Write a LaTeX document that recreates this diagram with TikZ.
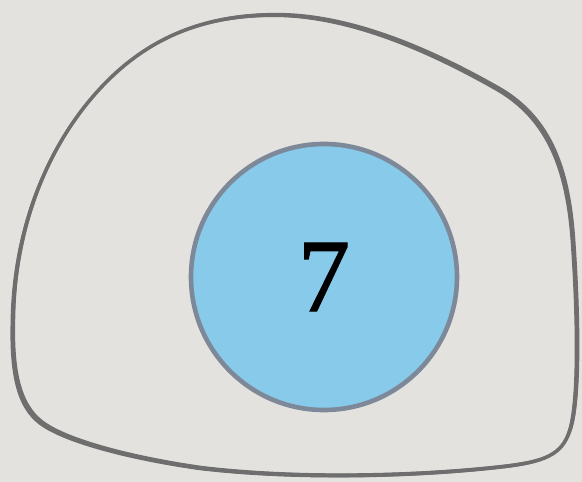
\documentclass[tikz,border=0pt]{standalone}
\usepackage{fontspec}
\setmainfont{Liberation Serif}
\newfontfamily\sevenfont[FakeBold=1.2]{Liberation Serif}
\definecolor{bgc}{HTML}{E4E2DE}
\definecolor{blobc}{HTML}{6E6E6E}
\definecolor{fillc}{HTML}{87CAEA}
\definecolor{rimc}{HTML}{7D8898}
\tikzset{
  blobline/.style={draw=blobc, line width=#1, line join=round, line cap=round},
  ball/.style={circle, draw=rimc, line width=4.6pt, fill=fillc, minimum size=266pt, inner sep=0pt,
    font=\sevenfont\fontsize{104}{104}\selectfont}
}
\newcommand{\blobshape}{(275,15) .. controls (350,15) and (430,50) .. (500,90)
 .. controls (550,120) and (568,170) .. (573,240)
 .. controls (578,310) and (580,400) .. (570,430)
 .. controls (562,455) and (545,462) .. (500,467)
 .. controls (420,476) and (300,480) .. (200,468)
 .. controls (130,458) and (60,440) .. (38,420)
 .. controls (15,400) and (12,360) .. (13,320)
 .. controls (14,240) and (40,160) .. (90,100)
 .. controls (140,40) and (200,15) .. (275,15) -- cycle}
\begin{document}
\begin{tikzpicture}[x=1pt,y=-1pt]
\fill[bgc] (0,0) rectangle (582,482);
\useasboundingbox (0,0) rectangle (582,482);
\draw[blobline=3.6pt] \blobshape;
\begin{scope}[shift={(-1.7,1.3)}]
\draw[blobline=1.4pt] \blobshape;
\end{scope}
\begin{scope}[shift={(1.6,-1.5)}]
\draw[blobline=1.3pt] \blobshape;
\end{scope}
\node[ball] (seven) at (324,277) {7};
\end{tikzpicture}
\end{document}
